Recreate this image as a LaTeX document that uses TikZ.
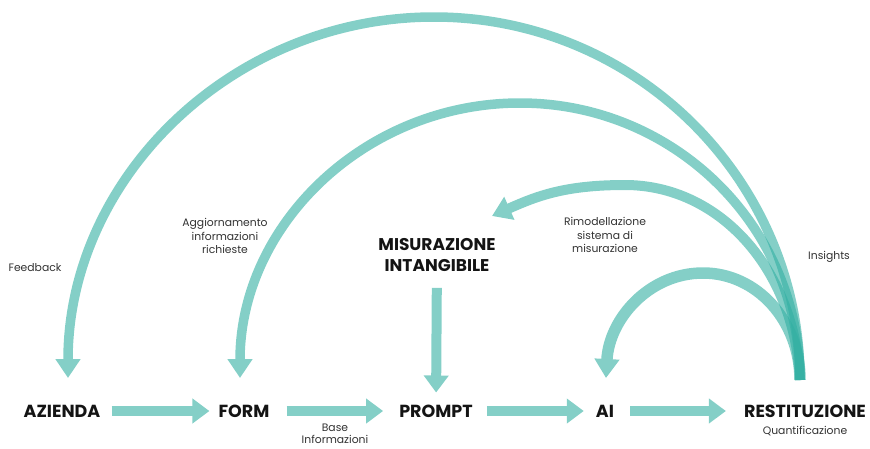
\documentclass[tikz,border=0pt]{standalone}
\usepackage{fontspec}
\setmainfont{Poppins}
\usetikzlibrary{arrows.meta}
\definecolor{teal}{RGB}{50,175,162}
\definecolor{tealsolid}{RGB}{132,207,199}
\definecolor{labeltext}{RGB}{20,20,20}
\definecolor{smalltext}{RGB}{50,50,50}
\tikzset{
  biglabel/.style={inner sep=0pt, font=\bfseries\fontsize{17.5}{20}\selectfont, text=labeltext, align=center},
  smalllabel/.style={inner sep=0pt, font=\fontsize{10.8}{13.2}\selectfont, text=smalltext, align=center},
  flowarrow/.style={draw=tealsolid, line width=10pt, -{Triangle[width=24pt,length=17pt]}},
  arcarrow/.style={draw=teal, line width=#1, line cap=butt, -{Triangle[width=24pt,length=19pt]}},
}
\begin{document}
\begin{tikzpicture}[x=1pt,y=1pt]
\useasboundingbox (0,0) rectangle (870,-448);
% bottom row
\node[biglabel] (az) at (62,-411) {AZIENDA};
\node[biglabel] (form) at (244,-411) {FORM};
\node[biglabel] (prompt) at (436,-411) {PROMPT};
\node[biglabel] (ai) at (605,-411) {AI};
\node[biglabel] (rest) at (805,-411) {RESTITUZIONE};
\node[biglabel, font=\bfseries\fontsize{17}{21}\selectfont] (mis) at (437,-255) {MISURAZIONE\\INTANGIBILE};
% small labels
\node[smalllabel] (feed) at (35,-268) {Feedback};
\node[smalllabel] (agg) at (225,-236) {Aggiornamento\\informazioni\\richieste};
\node[smalllabel] (rim) at (605,-235) {Rimodellazione\\sistema di\\misurazione};
\node[smalllabel] (ins) at (829,-257) {Insights};
\node[smalllabel, font=\fontsize{10.8}{12.4}\selectfont] (base) at (335,-434) {Base\\Informazioni};
\node[smalllabel] (quant) at (805,-431) {Quantificazione};
% horizontal flow
\draw[flowarrow, shorten <=11pt, shorten >=9pt] (az) -- (form);
\draw[flowarrow, shorten <=17pt, shorten >=16pt] (form) -- (prompt);
\draw[flowarrow, shorten <=14pt, shorten >=12pt] (prompt) -- (ai);
\draw[flowarrow, shorten <=16pt, shorten >=18pt] (ai) -- (rest);
\draw[flowarrow, shorten <=16pt, shorten >=12pt] (mis) -- (prompt);
% arc coordinates
\coordinate (src) at (800,-380);
\coordinate (top1) at (434,-17);
\coordinate (azin) at (68,-378);
\coordinate (top2) at (520,-103);
\coordinate (formin) at (240,-378);
\coordinate (top3) at (625,-185);
\coordinate (misin) at (492,-216);
\coordinate (top4) at (703,-273);
\coordinate (aiin) at (606,-378);
% arcs
\begin{scope}[transparency group, opacity=0.6]
\draw[arcarrow=9.5pt] (src) .. controls +(0,200) and +(202,0) .. (top1) .. controls +(-202,0) and +(0,200) .. (azin);
\end{scope}
\begin{scope}[transparency group, opacity=0.6]
\draw[arcarrow=9.5pt] (src) .. controls +(0,153) and +(155,0) .. (top2) .. controls +(-155,0) and +(0,153) .. (formin);
\end{scope}
\begin{scope}[transparency group, opacity=0.6]
\draw[arcarrow=10pt] (src) .. controls +(-5,110) and +(95,0) .. (top3) .. controls +(-60,0) and +(45,20) .. (misin);
\end{scope}
\begin{scope}[transparency group, opacity=0.6]
\draw[arcarrow=11.5pt] (src) .. controls +(0,59) and +(54,0) .. (top4) .. controls +(-54,0) and +(3,59) .. (aiin);
\end{scope}
\end{tikzpicture}
\end{document}
